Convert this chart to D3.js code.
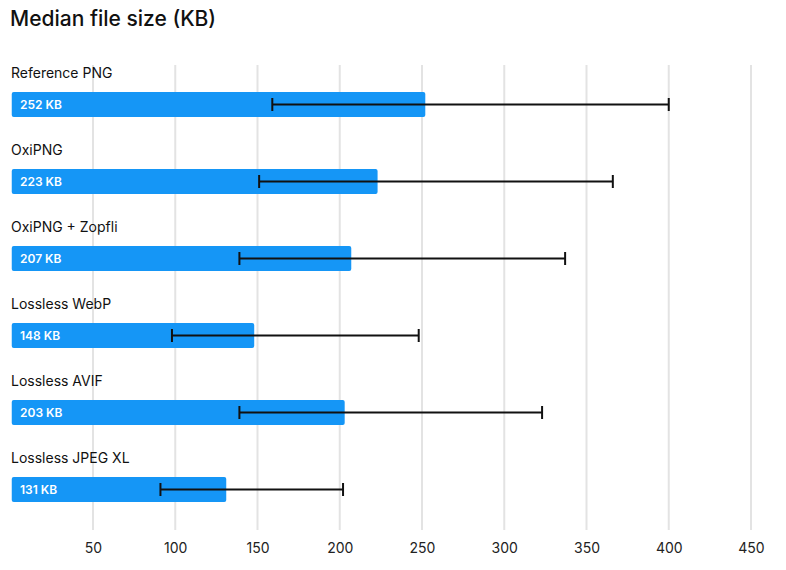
<!DOCTYPE html>
<html><head><meta charset="utf-8">
<script src="https://cdn.jsdelivr.net/npm/d3@7"></script>
<style>body{margin:0;background:#fff;font-family:Inter,"Noto Sans",sans-serif}</style>
</head><body><div id="chart"></div>
<script>
var categories = ["Reference PNG", "OxiPNG", "OxiPNG + Zopfli", "Lossless WebP", "Lossless AVIF", "Lossless JPEG XL"];
var medians = [252, 223, 207, 148, 203, 131];
var errLow = [159, 151, 139, 98, 139, 91];
var errHigh = [400, 366, 337, 248, 323, 202];
var ticks = [50, 100, 150, 200, 250, 300, 350, 400, 450];

var width = 786, height = 570;
var svg = d3.select('#chart').append('svg')
  .attr("width", width)
  .attr("height", height)

svg.append("text")
  .attr("x", 10).attr("y", 26)
  .attr("font-size", 21).attr("font-weight", 500).attr("fill", "#111")
  .text("Median file size (KB)")

var x = d3.scaleLinear().domain([0, 450]).range([10.75, 751])
var y = d3.scaleBand().domain(categories).range([66, 528])

svg.selectAll("line.grid")
  .data(ticks).enter().append("line")
  .attr("class", "grid")
  .attr("x1", d => x(d)).attr("x2", d => x(d))
  .attr("y1", 65).attr("y2", 530)
  .attr("stroke", "#e3e3e3").attr("stroke-width", 2)

var axis = svg.append("g")
  .attr("transform", "translate(0,535)")
  .call(d3.axisBottom(x).tickValues(ticks).tickSize(0).tickPadding(8))
axis.select(".domain").remove()
axis.selectAll("text").attr("font-size", 14).attr("fill", "#222")
  .attr("font-family", "Inter, sans-serif")

var row = svg.selectAll("g.row")
  .data(categories).enter().append("g")
  .attr("class", "row")
  .attr("transform", d => "translate(0," + y(d) + ")")

row.append("text")
  .attr("x", 11).attr("y", 12)
  .attr("font-size", 14).attr("fill", "#111")
  .text(d => d)

row.append("rect")
  .attr("x", x(0) + 1).attr("y", 26)
  .attr("width", (d, i) => x(medians[i]) - x(0) - 1)
  .attr("height", 25).attr("rx", 2)
  .attr("fill", "#1596f6")

row.append("text")
  .attr("x", 20).attr("y", 43)
  .attr("font-size", 12).attr("font-weight", 600).attr("fill", "#fff")
  .text((d, i) => medians[i] + " KB")

row.append("line")
  .attr("x1", (d, i) => x(errLow[i])).attr("x2", (d, i) => x(errHigh[i]))
  .attr("y1", 38.5).attr("y2", 38.5)
  .attr("stroke", "#111").attr("stroke-width", 2)
row.append("line")
  .attr("x1", (d, i) => x(errLow[i])).attr("x2", (d, i) => x(errLow[i]))
  .attr("y1", 32).attr("y2", 45)
  .attr("stroke", "#111").attr("stroke-width", 2)
row.append("line")
  .attr("x1", (d, i) => x(errHigh[i])).attr("x2", (d, i) => x(errHigh[i]))
  .attr("y1", 32).attr("y2", 45)
  .attr("stroke", "#111").attr("stroke-width", 2)
</script></body></html>
